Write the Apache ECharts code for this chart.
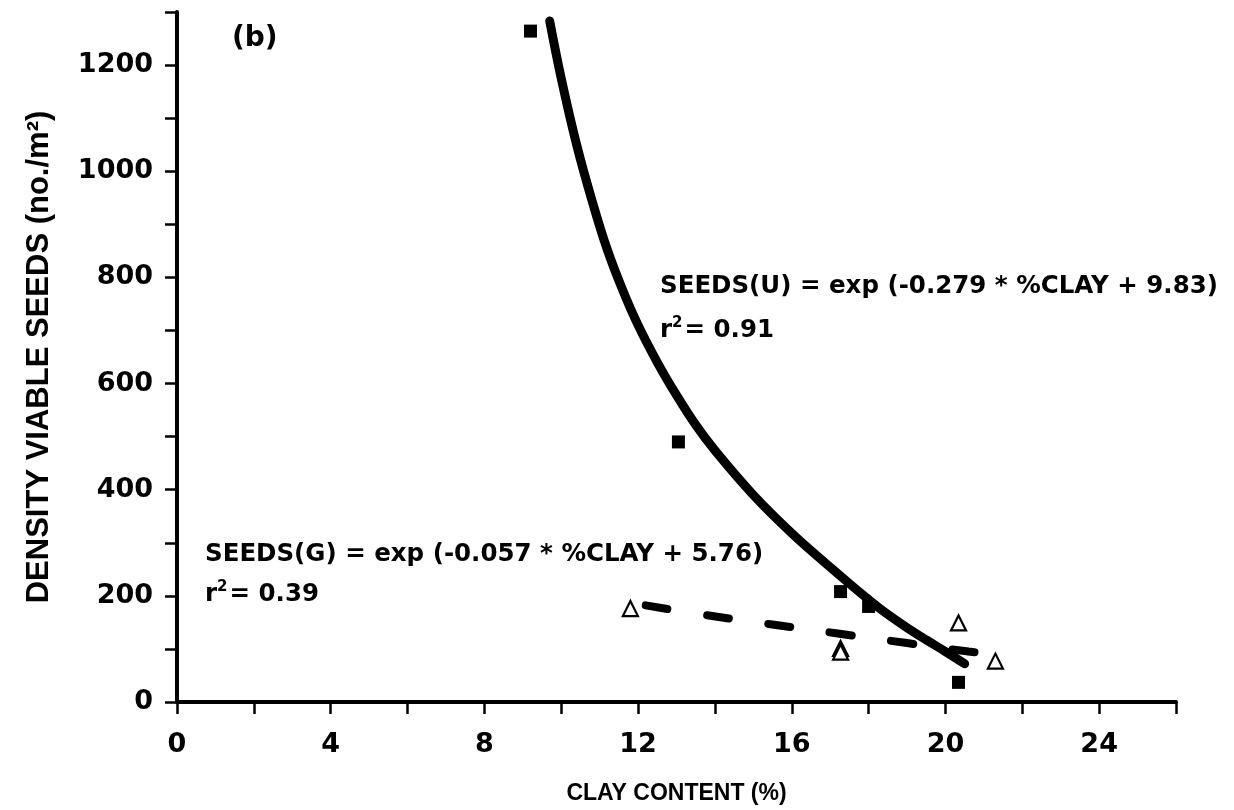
<!DOCTYPE html>
<html>
<head>
<meta charset="utf-8">
<script src="https://cdn.jsdelivr.net/npm/echarts@6/dist/echarts.min.js"></script>
<style>
html,body{margin:0;padding:0;background:#fff;}
#c{width:1234px;height:810px;}
</style>
</head>
<body>
<div id="c"></div>
<script>
// ---- data ----
const xTicks = [0, 4, 8, 12, 16, 20, 24];
const yTicks = [0, 200, 400, 600, 800, 1000, 1200];
const squaresX = [9.2, 13.05, 17.27, 18.0, 20.34];
const squaresY = [1264, 490, 208, 180, 37];
const trianglesX = [11.8, 17.27, 17.27, 20.34, 21.3];
const trianglesY = [176, 101, 94, 149, 77];
const fitUX = [9.7, 10.0, 10.4, 10.8, 11.2, 11.6, 12.0, 12.5, 13.0, 13.5, 14.0, 15.0, 16.0, 17.0, 17.5, 18.0, 18.5, 19.0, 19.5, 20.0, 20.5];
const fitUY = [1283, 1175, 1050, 945, 852, 776, 710, 640, 578, 522, 474, 390, 318, 254, 223, 193, 165, 140, 117, 95, 72];
const fitGX = [12.2, 13.75, 15.4, 17.2, 19.0, 20.6, 21.2];
const fitGY = [182, 164, 147, 129, 111, 95, 90];
const eqU = 'SEEDS(U) = exp (-0.279 * %CLAY + 9.83)';
const r2U = '0.91';
const eqG = 'SEEDS(G) = exp (-0.057 * %CLAY + 5.76)';
const r2G = '0.39';
const panel = '(b)';
const xName = 'CLAY CONTENT (%)';
const yName = 'DENSITY VIABLE SEEDS (no./m²)';

const zip = (a, b) => a.map((v, i) => [v, b[i]]);
const FONT = '"DejaVu Sans", sans-serif';
const NARROW = '"Liberation Sans", Arial, sans-serif';

const r2rich = {
  r: {font: 'bold 24.5px ' + FONT, fill: '#000'},
  s: {font: 'bold 15px ' + FONT, fill: '#000', verticalAlign: 'top', padding: [0, 2, 14, 0]}
};

const chart = echarts.init(document.getElementById('c'), null, {renderer: 'canvas'});
chart.setOption({
  backgroundColor: '#fff',
  animation: false,
  grid: {left: 177, right: 58, top: 12, bottom: 104, containLabel: false},
  xAxis: {
    type: 'value', min: 0, max: 26, interval: 2,
    name: xName, nameLocation: 'middle', nameGap: 80,
    nameTextStyle: {fontFamily: NARROW, fontWeight: 'bold', fontSize: 23, color: '#000'},
    axisLine: {show: true, onZero: false, lineStyle: {color: '#000', width: 4}},
    axisTick: {show: true, length: 12, lineStyle: {color: '#000', width: 2.5}},
    axisLabel: {
      margin: 29, color: '#000', fontFamily: FONT, fontWeight: 'bold', fontSize: 27,
      formatter: v => xTicks.includes(v) ? String(v) : ''
    },
    splitLine: {show: false}
  },
  yAxis: {
    type: 'value', min: 0, max: 1300, interval: 100,
    name: yName, nameLocation: 'middle', nameGap: 122, nameRotate: 90,
    nameTextStyle: {fontFamily: NARROW, fontWeight: 'bold', fontSize: 31, color: '#000'},
    axisLine: {show: true, onZero: false, lineStyle: {color: '#000', width: 4}},
    axisTick: {show: true, length: 12, lineStyle: {color: '#000', width: 2.5}},
    axisLabel: {
      margin: 24, color: '#000', fontFamily: FONT, fontWeight: 'bold', fontSize: 27,
      formatter: v => yTicks.includes(v) ? String(v) : ''
    },
    splitLine: {show: false}
  },
  series: [
    {
      type: 'line', name: 'fitG', data: zip(fitGX, fitGY), smooth: true, symbol: 'none', z: 2,
      lineStyle: {color: '#000', width: 8, type: [22, 40], cap: 'round'}
    },
    {
      type: 'scatter', name: 'G', data: zip(trianglesX, trianglesY), symbol: 'triangle', symbolSize: 15, z: 3,
      itemStyle: {color: '#fff', borderColor: '#000', borderWidth: 2.2, opacity: 1}
    },
    {
      type: 'scatter', name: 'U', data: zip(squaresX, squaresY), symbol: 'rect', symbolSize: 13, z: 3,
      itemStyle: {color: '#000', opacity: 1}
    },
    {
      type: 'line', name: 'fitU', data: zip(fitUX, fitUY), smooth: 0.4, symbol: 'none', z: 4,
      lineStyle: {color: '#000', width: 9, cap: 'round'}
    }
  ],
  graphic: [
    {type: 'text', left: 232, top: 25, style: {text: panel, font: 'bold 28px ' + FONT, fill: '#000'}},
    {type: 'text', left: 660, top: 274, style: {text: eqU, font: 'bold 24.5px ' + FONT, fill: '#000'}},
    {type: 'text', left: 660, top: 316, style: {rich: r2rich, text: '{r|r}{s|2}{r|= ' + r2U + '}'}},
    {type: 'text', left: 205, top: 542, style: {text: eqG, font: 'bold 24.5px ' + FONT, fill: '#000'}},
    {type: 'text', left: 205, top: 580, style: {rich: r2rich, text: '{r|r}{s|2}{r|= ' + r2G + '}'}}
  ]
});
</script>
</body>
</html>
